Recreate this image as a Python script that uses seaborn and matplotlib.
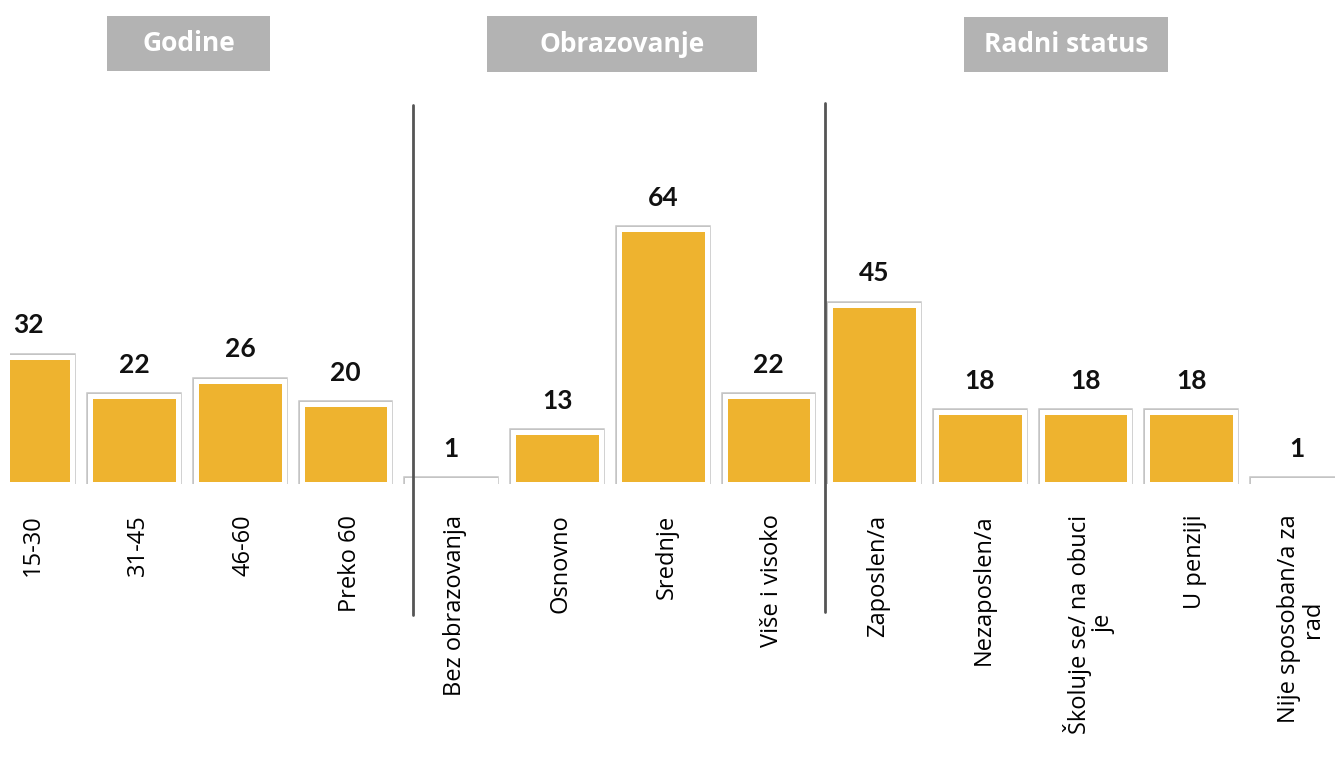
import pandas as pd
import seaborn as sns
import matplotlib.pyplot as plt
import matplotlib.patheffects as pe
import matplotlib.transforms as mtransforms
from matplotlib.patches import Rectangle
from matplotlib.lines import Line2D

# Data
groups = ['Godine', 'Obrazovanje', 'Radni status']
categories = ['15-30', '31-45', '46-60', 'Preko 60',
              'Bez obrazovanja', 'Osnovno', 'Srednje', 'Više i visoko',
              'Zaposlen/a', 'Nezaposlen/a', 'Školuje se/ na obuci\nje', 'U penziji',
              'Nije sposoban/a za\nrad']
values = [32, 22, 26, 20, 1, 13, 64, 22, 45, 18, 18, 18, 1]
group_of = ['Godine'] * 4 + ['Obrazovanje'] * 4 + ['Radni status'] * 5

df = pd.DataFrame({'kategorija': categories, 'vrijednost': values, 'grupa': group_of})

sns.set_style('white')
plt.rcParams['font.family'] = ['Open Sans', 'DejaVu Sans']

fig = plt.figure(figsize=(13.35, 7.58), dpi=100)
W, H = 1335, 758
ax = fig.add_axes([10 / W, 1 - 484 / H, 1 - 10 / W, 398 / H])

sns.barplot(data=df, x='kategorija', y='vrijednost', color='#EEB32F',
            width=0.83, edgecolor='white', linewidth=3.6, saturation=1, ax=ax)

for bar in ax.patches:
    bar.set_path_effects([pe.Stroke(linewidth=5.4, foreground='#c4c4c4'), pe.Normal()])
    bar.set_clip_on(True)

ax.bar_label(ax.containers[0], padding=14, fontsize=19, fontweight='bold',
             family='Lato', color='#111111')

# x positions: centre spacing ~105.7 px, first centre ~28.5 px
ax.set_xlim((10 - 28.5) / 105.7, (1335 - 28.5) / 105.7)
ax.set_ylim(0, 100)
ax.set_xlabel('')
ax.set_ylabel('')
ax.set_yticks([])
ax.tick_params(axis='x', length=0, pad=22)
ax.set_xticks(range(len(categories)))
ax.set_xticklabels(categories, rotation=90, fontsize=17, va='top', ha='center',
                   multialignment='center', color='#000000', linespacing=1.0)
shift = mtransforms.ScaledTranslation(4 / 100, 0, fig.dpi_scale_trans)
for lbl in ax.get_xticklabels():
    lbl.set_transform(lbl.get_transform() + shift)
sns.despine(ax=ax, left=True, bottom=True)

# Group separators
for xp, y0, y1 in [(413, 105, 615), (825, 103, 612)]:
    fig.add_artist(Line2D([xp / W, xp / W], [1 - y0 / H, 1 - y1 / H],
                          color='#555555', linewidth=2))

# Group headers
boxes = [(107, 16, 270, 71), (487, 16, 757, 72), (964, 17, 1168, 72)]
for name, (x0, y0, x1, y1) in zip(groups, boxes):
    fig.add_artist(Rectangle((x0 / W, 1 - y1 / H), (x1 - x0) / W, (y1 - y0) / H,
                             facecolor='#B3B3B3', edgecolor='none'))
    fig.text((x0 + x1) / 2 / W, 1 - (y0 + y1) / 2 / H, name, color='white',
             fontsize=19, fontweight='bold', ha='center', va='center')

fig.savefig('out.png', dpi=100)
